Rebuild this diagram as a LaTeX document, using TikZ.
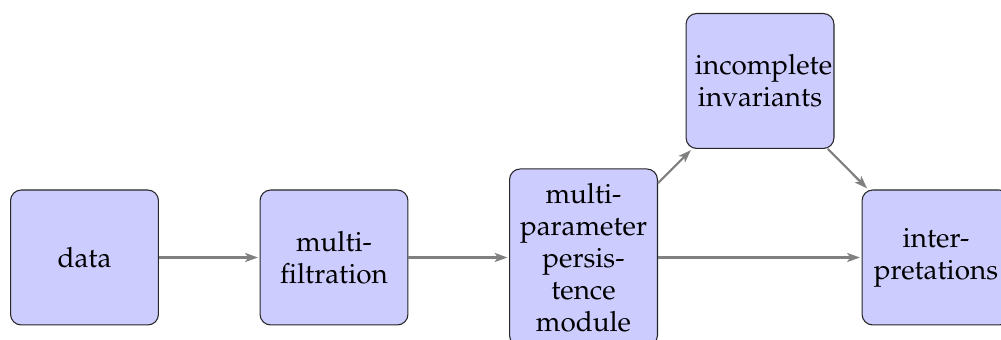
\documentclass[tikz,border=0pt]{standalone}
\usepackage[T1]{fontenc}
\usepackage{mathpazo}
\usetikzlibrary{arrows.meta}
\begin{document}
\begin{tikzpicture}[x=0.375pt,y=-0.375pt,
  stage/.style={draw=black!85, fill=blue!20, rounded corners=4pt,
    line width=0.4pt, text width=48.8pt, align=center, inner sep=3.333pt,
    minimum height=50.6pt, font=\fontsize{10.45}{12}\selectfont},
  flow/.style={draw=gray, line width=0.8pt,
    -{Stealth[length=4.8pt,width=3.4pt,inset=1.2pt]}, shorten >=0.6pt}]
\useasboundingbox (0,0) rectangle (1001,340);
\clip (0,0) rectangle (1001,340);
% pipeline stages
\node[stage] (data)   at (84.5,257.5) {data};
\node[stage] (filt)   at (334,257.5)  {multi-\\filtration};
\node[stage, minimum height=66.4pt] (mod) at (583.5,257.5)
  {multi-\\parameter\\persis-\\tence\\module};
\node[stage] (inv)    at (760,81)     {incomplete\\invariants};
\node[stage] (interp) at (936,257.5)  {inter-\\pretations};
% connections
\draw[flow] (data) -- (filt);
\draw[flow] (filt) -- (mod);
\draw[flow] (mod) -- (interp);
\draw[flow] (mod) -- (inv);
\draw[flow] (inv) -- (interp);
\end{tikzpicture}
\end{document}
